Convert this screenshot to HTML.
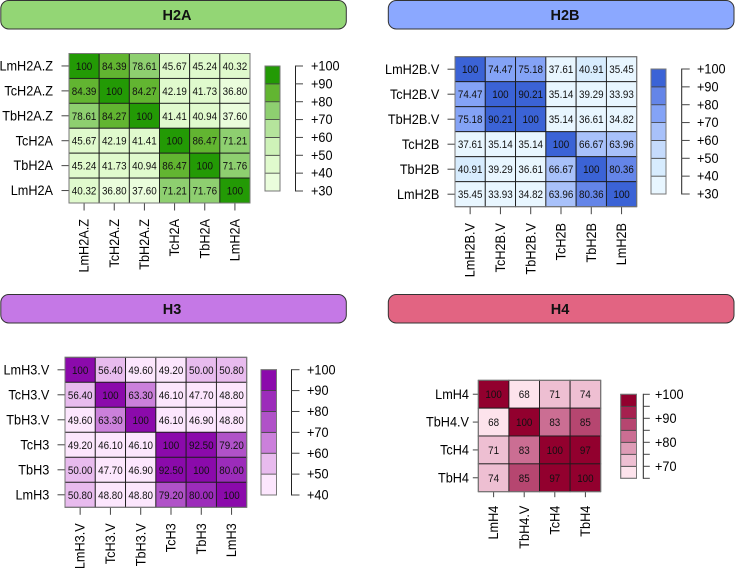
<!DOCTYPE html>
<html lang="en">
<head>
<meta charset="utf-8">
<title>Histone variant identity heatmaps</title>
<style>
html,body{margin:0;padding:0;background:#fff;}
body{width:735px;height:568px;overflow:hidden;}
svg{display:block;font-family:"Liberation Sans",Arial,sans-serif;}
</style>
</head>
<body>
<svg id="chart" xmlns="http://www.w3.org/2000/svg" width="735" height="568" viewBox="0 0 735 568">
  <g>
    <rect x="0.8" y="0.5" width="345.5" height="28.5" rx="8" fill="#93D675" stroke="#333" stroke-width="1"/>
    <text x="177" y="20" text-anchor="middle" font-size="14.5" font-weight="bold" fill="#111">H2A</text>
  </g>
  <g>
    <rect x="388.3" y="0.5" width="345.7" height="28.5" rx="8" fill="#8BA8FF" stroke="#333" stroke-width="1"/>
    <text x="565" y="20" text-anchor="middle" font-size="14.5" font-weight="bold" fill="#111">H2B</text>
  </g>
  <g>
    <rect x="0.8" y="294.5" width="345.5" height="28.5" rx="8" fill="#C578E6" stroke="#333" stroke-width="1"/>
    <text x="172" y="314" text-anchor="middle" font-size="14.5" font-weight="bold" fill="#111">H3</text>
  </g>
  <g>
    <rect x="388.3" y="294.5" width="345.7" height="28.5" rx="8" fill="#E26482" stroke="#333" stroke-width="1"/>
    <text x="560" y="314" text-anchor="middle" font-size="14.5" font-weight="bold" fill="#111">H4</text>
  </g>
</svg>
<script>
// ---- H2A data ----
const h2aCategories = ["LmH2A.Z","TcH2A.Z","TbH2A.Z","TcH2A","TbH2A","LmH2A"];
const h2aValues = [
  [100,84.39,78.61,45.67,45.24,40.32],
  [84.39,100,84.27,42.19,41.73,36.80],
  [78.61,84.27,100,41.41,40.94,37.60],
  [45.67,42.19,41.41,100,86.47,71.21],
  [45.24,41.73,40.94,86.47,100,71.76],
  [40.32,36.80,37.60,71.21,71.76,100]
];
const h2aBreaks = [30,40,50,60,70,80,90,100];
const h2aTickValues = [30,40,50,60,70,80,90,100];
const h2aTickLabels = ["+30","+40","+50","+60","+70","+80","+90","+100"];

// ---- H2B data ----
const h2bCategories = ["LmH2B.V","TcH2B.V","TbH2B.V","TcH2B","TbH2B","LmH2B"];
const h2bValues = [
  [100,74.47,75.18,37.61,40.91,35.45],
  [74.47,100,90.21,35.14,39.29,33.93],
  [75.18,90.21,100,35.14,36.61,34.82],
  [37.61,35.14,35.14,100,66.67,63.96],
  [40.91,39.29,36.61,66.67,100,80.36],
  [35.45,33.93,34.82,63.96,80.36,100]
];
const h2bBreaks = [30,40,50,60,70,80,90,100];
const h2bTickValues = [30,40,50,60,70,80,90,100];
const h2bTickLabels = ["+30","+40","+50","+60","+70","+80","+90","+100"];

// ---- H3 data ----
const h3Categories = ["LmH3.V","TcH3.V","TbH3.V","TcH3","TbH3","LmH3"];
const h3Values = [
  [100,56.40,49.60,49.20,50.00,50.80],
  [56.40,100,63.30,46.10,47.70,48.80],
  [49.60,63.30,100,46.10,46.90,48.80],
  [49.20,46.10,46.10,100,92.50,79.20],
  [50.00,47.70,46.90,92.50,100,80.00],
  [50.80,48.80,48.80,79.20,80.00,100]
];
const h3Breaks = [40,50,60,70,80,90,100];
const h3TickValues = [40,50,60,70,80,90,100];
const h3TickLabels = ["+40","+50","+60","+70","+80","+90","+100"];

// ---- H4 data ----
const h4Categories = ["LmH4","TbH4.V","TcH4","TbH4"];
const h4Values = [
  [100,68,71,74],
  [68,100,83,85],
  [71,83,100,97],
  [74,85,97,100]
];
const h4Breaks = [65,70,75,80,85,90,95,100];
const h4TickValues = [65,70,75,80,85,90,95,100];
const h4TickLabels = ["","+70","","+80","","+90","","+100"];

// ---- colour ramps, lowest bin first ----
const h2aPalette = ["#EAFDDC","#E0FACD","#CEF2B8","#B5E49C","#8ECF70","#62B531","#239A05"];
const h2bPalette = ["#E8F6FF","#D7ECFE","#C5DBFC","#A8C1FA","#84A3F6","#6485E8","#3B63D6"];
const h3Palette = ["#FCE6FD","#E8BBEE","#CB80DB","#B052C8","#9C2CBA","#8B0AAB"];
const h4Palette = ["#FDE3EC","#EEBFD2","#DE9CB6","#CB6E93","#B64670","#A6214F","#92002E"];

const NS = "http://www.w3.org/2000/svg";
const root = document.getElementById("chart");

function make(parent, tag, attrs, text) {
  const el = document.createElementNS(NS, tag);
  for (const k in attrs) el.setAttribute(k, attrs[k]);
  if (text !== undefined) el.textContent = text;
  parent.appendChild(el);
  return el;
}

function binIndex(v, breaks) {
  for (let i = breaks.length - 2; i >= 0; i--) {
    if (v >= breaks[i]) return i;
  }
  return 0;
}

function drawPanel(p) {
  const g = make(root, "g", {});
  
  

  const n = p.categories.length;
  const xScale = i => p.x0 + (p.x1 - p.x0) * i / n;
  const yScale = i => p.y0 + (p.y1 - p.y0) * i / n;

  // heatmap cells and printed values
  p.values.forEach((row, r) => {
    row.forEach((v, c) => {
      const cell = make(g, "rect", {
        x: xScale(c), y: yScale(r),
        width: xScale(c + 1) - xScale(c), height: yScale(r + 1) - yScale(r),
        fill: p.palette[binIndex(v, p.breaks)],
        stroke: "#1c1c1c", "stroke-width": 0.9
      });
      
      
    });
  });
  p.values.forEach((row, r) => {
    row.forEach((v, c) => {
      const label = v === 100 ? "100" : v.toFixed(p.decimals);
      const cx = (xScale(c) + xScale(c + 1)) / 2;
      const cy = (yScale(r) + yScale(r + 1)) / 2 + 4;
      const t = make(g, "text", {
        transform: "translate(" + cx + "," + cy + ") scale(0.87,1)",
        x: 0, y: 0,
        "text-anchor": "middle", "font-size": 11.3, fill: "#111"
      }, label);
      
      
    });
  });
  const frame = make(g, "rect", {
    x: p.x0, y: p.y0, width: p.x1 - p.x0, height: p.y1 - p.y0,
    fill: "none", stroke: "#777", "stroke-width": 1
  });
  
  

  // category axes
  p.categories.forEach((name, i) => {
    const cy = (yScale(i) + yScale(i + 1)) / 2;
    const ty = make(g, "line", {
      x1: p.x0 - p.tick, x2: p.x0 - 0.5, y1: cy, y2: cy, stroke: "#444", "stroke-width": 1
    });
    
    
    const ly = make(g, "text", {
      transform: "translate(" + p.yLabelX + "," + (cy + 4.6) + ") scale(0.94,1)",
      x: 0, y: 0, "text-anchor": "end", "font-size": 13.5, fill: "#000"
    }, name);
    
    

    const cx = (xScale(i) + xScale(i + 1)) / 2;
    const tx = make(g, "line", {
      x1: cx, x2: cx, y1: p.y1 + 0.5, y2: p.y1 + p.tick, stroke: "#444", "stroke-width": 1
    });
    
    
    const lx = make(g, "text", {
      transform: "translate(" + (cx + 4.6) + "," + p.xLabelY + ") rotate(-90) scale(0.94,1)",
      x: 0, y: 0, "text-anchor": "end", "font-size": 13.5, fill: "#000"
    }, name);
    
    
  });

  // colour legend
  const lo = p.breaks[0], hi = p.breaks[p.breaks.length - 1];
  const legendY = v => p.legY1 - (p.legY1 - p.legY0) * (v - lo) / (hi - lo);
  p.palette.forEach((col, i) => {
    const sw = make(g, "rect", {
      x: p.legX0, y: legendY(p.breaks[i + 1]),
      width: p.legX1 - p.legX0, height: legendY(p.breaks[i]) - legendY(p.breaks[i + 1]),
      fill: col, stroke: "#444", "stroke-width": 0.8
    });
    
    
  });
  const legFrame = make(g, "rect", {
    x: p.legX0, y: p.legY0, width: p.legX1 - p.legX0, height: p.legY1 - p.legY0,
    fill: "none", stroke: "#777", "stroke-width": 1
  });
  
  

  // legend axis
  const axis = make(g, "line", {
    x1: p.axisX, x2: p.axisX,
    y1: legendY(p.tickValues[0]) + 0.5,
    y2: legendY(p.tickValues[p.tickValues.length - 1]) - 0.5,
    stroke: "#222", "stroke-width": 1
  });
  
  
  p.tickValues.forEach((v, i) => {
    const yy = legendY(v);
    const tk = make(g, "line", {
      x1: p.axisX, x2: p.axisX + p.legTick, y1: yy, y2: yy, stroke: "#444", "stroke-width": 1
    });
    
    
    if (p.tickLabels[i]) {
      const tl = make(g, "text", {
        transform: "translate(" + p.legLabelX + "," + (yy + 4.6) + ") scale(0.94,1)",
        x: 0, y: 0, "font-size": 13.5, fill: "#000"
      }, p.tickLabels[i]);
      
      
    }
  });
}

drawPanel({
  key: "h2a", categories: h2aCategories, values: h2aValues, breaks: h2aBreaks, palette: h2aPalette,
  tickValues: h2aTickValues, tickLabels: h2aTickLabels, decimals: 2,
  x0: 69, x1: 250, y0: 53.5, y1: 203, tick: 7.5, yLabelX: 53, xLabelY: 219,
  legX0: 265, legX1: 280, legY0: 66, legY1: 191, axisX: 295.5, legTick: 7.5, legLabelX: 311
});
drawPanel({
  key: "h2b", categories: h2bCategories, values: h2bValues, breaks: h2bBreaks, palette: h2bPalette,
  tickValues: h2bTickValues, tickLabels: h2bTickLabels, decimals: 2,
  x0: 455, x1: 636.7, y0: 56.7, y1: 206.7, tick: 7.5, yLabelX: 439.3, xLabelY: 223,
  legX0: 651, legX1: 666, legY0: 69, legY1: 194, axisX: 681.7, legTick: 8, legLabelX: 697
});
drawPanel({
  key: "h3", categories: h3Categories, values: h3Values, breaks: h3Breaks, palette: h3Palette,
  tickValues: h3TickValues, tickLabels: h3TickLabels, decimals: 2,
  x0: 65, x1: 246.7, y0: 357.3, y1: 507.3, tick: 7.5, yLabelX: 49.3, xLabelY: 523.3,
  legX0: 261, legX1: 276.5, legY0: 369.7, legY1: 495, axisX: 291.5, legTick: 8, legLabelX: 307
});
drawPanel({
  key: "h4", categories: h4Categories, values: h4Values, breaks: h4Breaks, palette: h4Palette,
  tickValues: h4TickValues, tickLabels: h4TickLabels, decimals: 0,
  x0: 478.3, x1: 600.7, y0: 380.3, y1: 491.7, tick: 5.5, yLabelX: 469, xLabelY: 505.7,
  legX0: 620.7, legX1: 636.5, legY0: 394.3, legY1: 478.3, axisX: 643.3, legTick: 6.5, legLabelX: 655
});
</script>
</body>
</html>
